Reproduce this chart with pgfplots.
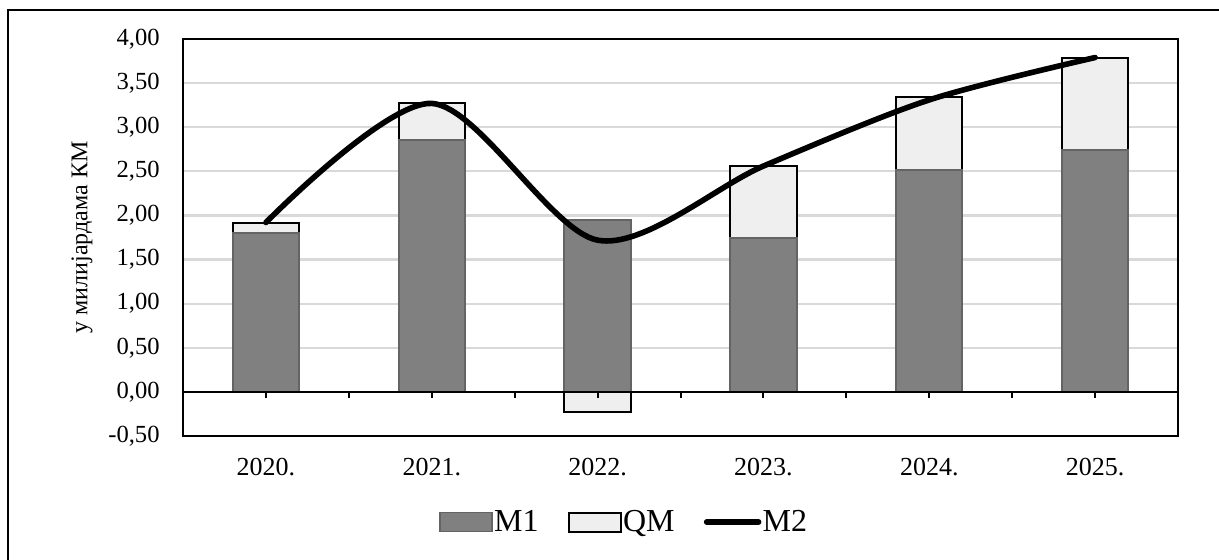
\documentclass[border=0pt]{standalone}
\usepackage{fontspec}
\setmainfont{Liberation Serif}
\usepackage{pgfplots}
\usepackage{pgfplotstable}
\pgfplotsset{compat=1.18}

\definecolor{mone}{HTML}{808080}
\definecolor{moneedge}{HTML}{646464}
\definecolor{qm}{HTML}{EFEFEF}
\definecolor{gridc}{HTML}{D9D9D9}

% year index, M1, QM, M2 (billions KM)
\pgfplotstableread{
x M1 QM M2
0 1.80 0.12 1.92
1 2.86 0.41 3.27
2 1.95 -0.23 1.72
3 1.75 0.81 2.56
4 2.51 0.83 3.31
5 2.74 1.04 3.79
}\money

\begin{document}
\begin{tikzpicture}
\useasboundingbox (-91.5pt,-61.5pt) rectangle (518pt,218pt);
\draw[line width=1.2pt] (-87.5pt,-80pt) -- (-87.5pt,213pt) -- (540pt,213pt);
\begin{axis}[
  at={(0,0)}, anchor=south west,
  scale only axis, width=497.5pt, height=198.5pt,
  xmin=-0.5, xmax=5.5, ymin=-0.5, ymax=4,
  xtick={0,1,2,3,4,5},
  xticklabels={2020.,2021.,2022.,2023.,2024.,2025.},
  ytick={-0.5,0,0.5,1,1.5,2,2.5,3,3.5,4},
  major tick length=0pt,
  ymajorgrids, grid style={gridc, line width=1.1pt},
  axis line style={line width=1pt},
  /pgf/number format/.cd, fixed, fixed zerofill, precision=2, use comma, assume math mode=true,
  /pgfplots/.cd,
  yticklabel style={font=\fontsize{12.3}{12}\selectfont, anchor=east, inner sep=0pt, xshift=-11.5pt},
  xticklabel style={font=\fontsize{13}{13}\selectfont, anchor=north, inner sep=0pt, yshift=-11pt},
  bar width=0.4,
  legend columns=3,
  legend style={draw=none, fill=none, inner sep=0pt, at={(0.2573,-0.2166)}, anchor=west,
    font=\fontsize{16}{16}\selectfont, nodes={inner sep=0.6pt}},
  /tikz/every even column/.append style={column sep=14pt},
]
% QM drawn from zero to the stack top, M1 laid over it
\addplot[ybar, bar shift=0pt, fill=qm, draw=black, line width=1pt, forget plot]
  table[x=x, y expr={\thisrow{QM}<0 ? \thisrow{QM} : \thisrow{M1}+\thisrow{QM}}] {\money};
\addplot[ybar, bar shift=0pt, fill=mone, draw=moneedge, line width=1pt, forget plot]
  table[x=x, y=M1] {\money};
\draw[line width=1pt] (axis cs:-0.5,0) -- (axis cs:5.5,0);
\pgfplotsinvokeforeach{0,0.5,1,1.5,2,2.5,3,3.5,4,4.5,5}{
  \draw[line width=1pt] (axis cs:#1,0) -- ++(0pt,-3pt);
}
\addplot[smooth, line width=2.8pt, line cap=round, black, forget plot]
  table[x=x, y=M2] {\money};

\addlegendimage{legend image code/.code={\draw[fill=mone, draw=moneedge, line width=0.8pt] (0pt,-4.75pt) rectangle (26pt,4.75pt);}}
\addlegendentry{M1}
\addlegendimage{legend image code/.code={\draw[fill=qm, draw=black, line width=1pt] (0pt,-4.75pt) rectangle (26pt,4.75pt);}}
\addlegendentry{QM}
\addlegendimage{legend image code/.code={\draw[black, line width=2.8pt, line cap=round] (1pt,0pt) -- (27pt,0pt);}}
\addlegendentry{M2}
\end{axis}
\node[rotate=90, font=\fontsize{12}{12}\selectfont] at (-50.5pt,99.25pt) {у милијардама КМ};
\end{tikzpicture}
\end{document}
